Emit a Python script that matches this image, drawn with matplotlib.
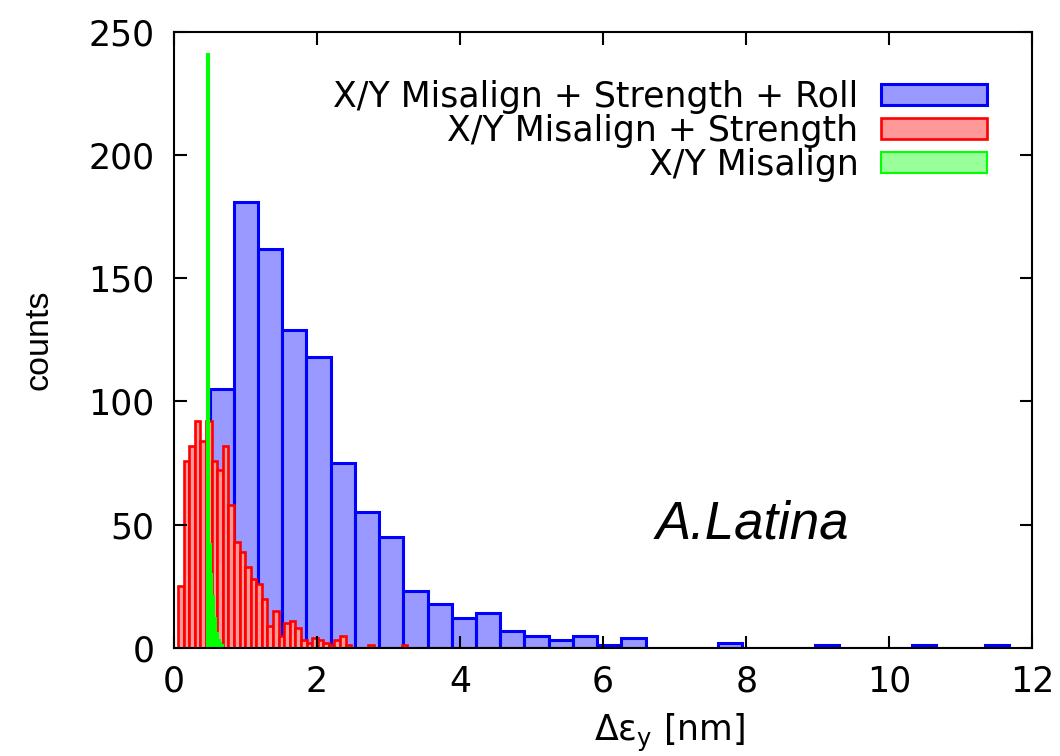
import matplotlib
matplotlib.use('Agg')
import matplotlib.pyplot as plt
import numpy as np

plt.rcParams['font.family'] = ['DejaVu Sans']
plt.rcParams['mathtext.fontset'] = 'dejavusans'

# Histogram data (bin range + counts per bin)
roll_lo, roll_hi = 0.50, 11.67
roll_counts = [105, 181, 162, 129, 118, 75, 55, 45, 23, 18, 12, 14, 7, 5, 3, 5, 1, 4,
               0, 0, 0, 2, 0, 0, 0, 1, 0, 0, 0, 1, 0, 0, 1]

strength_lo, strength_hi = 0.06, 3.26
strength_counts = [25, 76, 82, 92, 84, 92, 76, 72, 82, 58, 43, 39, 33, 28, 26, 20, 9, 15,
                   5, 10, 11, 8, 3, 2, 4, 3, 2, 1, 3, 5, 1, 0, 0, 0, 1, 0, 0, 0, 0, 0, 1]

misalign_lo, misalign_hi = 0.465, 0.69
misalign_counts = [241, 42, 30, 21, 12, 6, 3, 2, 1]

labels = ['X/Y Misalign + Strength + Roll', 'X/Y Misalign + Strength', 'X/Y Misalign']

fig = plt.figure(figsize=(10.6, 7.56), dpi=100)
ax = fig.add_axes([0.164, 0.143, 0.810, 0.815])


def draw_hist(lo, hi, counts, face, edge, lw, label):
    edges = np.linspace(lo, hi, len(counts) + 1)
    ax.bar(edges[:-1], counts, width=np.diff(edges), align='edge',
           color=face, edgecolor=edge, linewidth=lw, label=label)


draw_hist(roll_lo, roll_hi, roll_counts, '#9999ff', '#0000ff', 2.2, labels[0])
draw_hist(strength_lo, strength_hi, strength_counts, '#ff9999', '#ff0000', 1.9, labels[1])
draw_hist(misalign_lo, misalign_hi, misalign_counts, '#99ff99', '#00ff00', 1.5, labels[2])

ax.set_xlim(0, 12)
ax.set_ylim(0, 250)
ax.set_xticks(np.arange(0, 13, 2))
ax.set_yticks(np.arange(0, 251, 50))
ax.tick_params(direction='in', length=9, width=1.5, top=True, right=True,
               labelsize=25)
ax.tick_params(axis='y', pad=14)
ax.tick_params(axis='x', pad=12)
for s in ax.spines.values():
    s.set_linewidth(1.5)

ax.set_xlabel('Δε$_{\\mathrm{y}}$ [nm]', fontsize=25)
ax.xaxis.set_label_coords(0.578, -0.104)
ax.set_ylabel('counts', fontsize=24.5, family='Liberation Sans', labelpad=24)

ax.text(8.08, 50, 'A.Latina', style='italic', fontsize=38,
        family='Liberation Sans', ha='center', va='center')

ax.legend(loc='upper right', bbox_to_anchor=(0.947, 0.922), frameon=False,
          markerfirst=False, fontsize=25, handlelength=3.05, handleheight=0.55,
          handletextpad=0.65, labelspacing=0.0, borderpad=0, borderaxespad=0)

plt.savefig('out.png', dpi=100)
